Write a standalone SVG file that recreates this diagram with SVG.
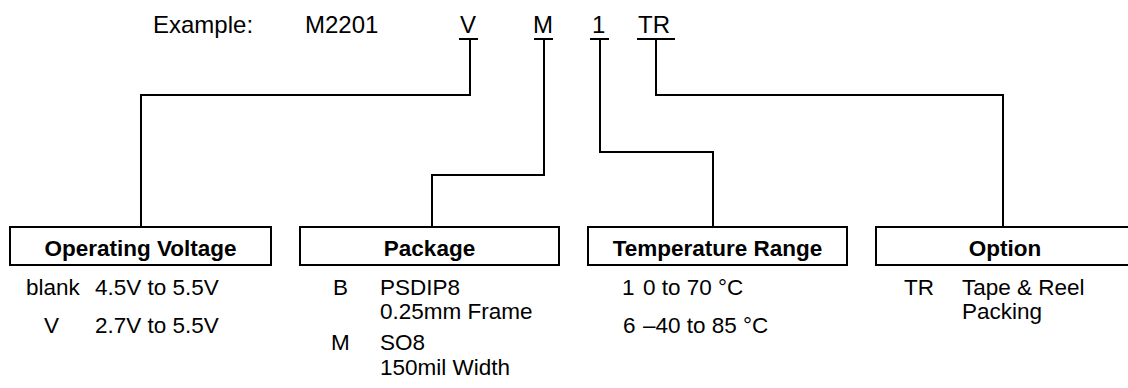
<svg xmlns="http://www.w3.org/2000/svg" width="1128" height="388" viewBox="0 0 1128 388">
<style>
text{font-family:"Liberation Sans",Arial,sans-serif;font-size:22.5px;fill:#000}
.t{font-size:24px}
.h{font-weight:bold;text-anchor:middle}
.box{fill:none;stroke:#000;stroke-width:2}
.c{fill:none;stroke:#000;stroke-width:2}
</style>
<rect width="1128" height="388" fill="#fff"/>
<g id="example">
<text class="t" x="153" y="33">Example:</text>
<text class="t" x="305" y="33">M2201</text>
<text class="t" x="460" y="33">V</text>
<text class="t" x="533" y="33">M</text>
<text class="t" x="592" y="33">1</text>
<text class="t" x="638" y="33">TR</text>
</g>
<g id="connectors" class="c">
<path class="c" d="M459 39H478M534 39H553M590 39H609M637 39H675"/>
<path class="c" d="M470 39V95H141V227"/>
<path class="c" d="M544 39V175H432V227"/>
<path class="c" d="M600 39V152H713V227"/>
<path class="c" d="M656 39V95H1003V227"/>
</g>
<g id="operating-voltage">
<rect class="box" x="10" y="227" width="261" height="38"/>
<text class="h" x="140.5" y="256">Operating Voltage</text>
<text x="26" y="295">blank</text><text x="95" y="295">4.5V to 5.5V</text>
<text x="44" y="333">V</text><text x="95" y="333">2.7V to 5.5V</text>
</g>
<g id="package">
<rect class="box" x="300" y="227" width="259" height="38"/>
<text class="h" x="429.5" y="256">Package</text>
<text x="333" y="295">B</text><text x="380" y="295">PSDIP8</text>
<text x="380" y="319">0.25mm Frame</text>
<text x="331" y="350">M</text><text x="380" y="350">SO8</text>
<text x="380" y="375">150mil Width</text>
</g>
<g id="temperature-range">
<rect class="box" x="588" y="227" width="259" height="38"/>
<text class="h" x="717.5" y="256">Temperature Range</text>
<text x="622" y="295">1</text><text x="643" y="295">0 to 70 °C</text>
<text x="623" y="333">6</text><text x="643" y="333">–40 to 85 °C</text>
</g>
<g id="option">
<rect class="box" x="876" y="227" width="260" height="38"/>
<text class="h" x="1005" y="256">Option</text>
<text x="904" y="295">TR</text><text x="962" y="295">Tape &amp; Reel</text>
<text x="962" y="319">Packing</text>
</g>
</svg>
